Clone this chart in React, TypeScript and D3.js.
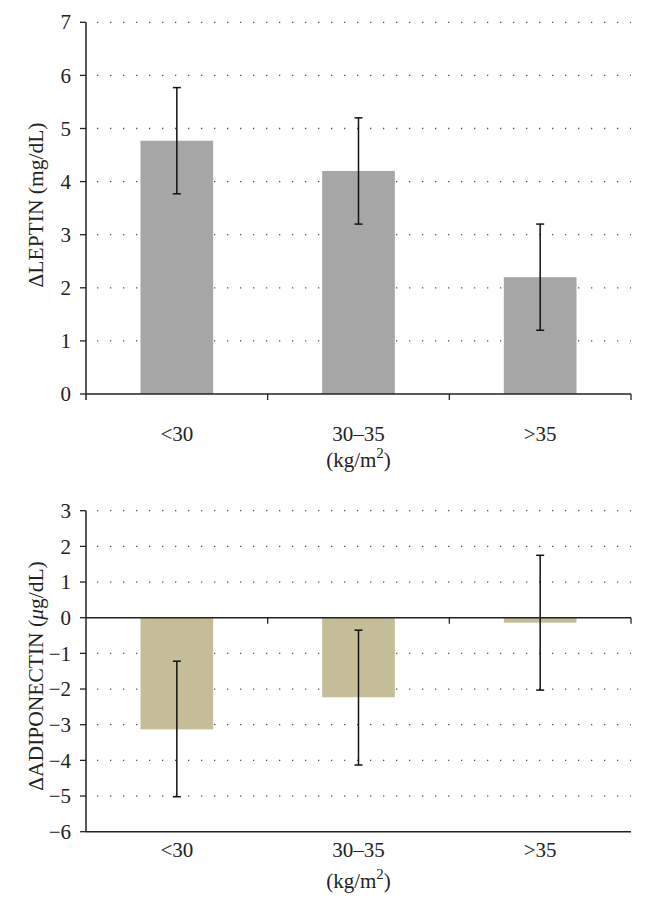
import React from "react";
import * as d3 from "d3";

const categories = ["<30", "30\u201335", ">35"];
const leptinValues = [4.77, 4.2, 2.2];
const leptinLow = [3.77, 3.2, 1.2];
const leptinHigh = [5.77, 5.2, 3.2];
const leptinTicks = [0, 1, 2, 3, 4, 5, 6, 7];
const adipoValues = [-3.13, -2.23, -0.14];
const adipoLow = [-5.02, -4.13, -2.03];
const adipoHigh = [-1.22, -0.35, 1.75];
const adipoTicks = [-6, -5, -4, -3, -2, -1, 0, 1, 2, 3];

const FONT = "Liberation Serif";

type PanelProps = {
  top: number;
  bottom: number;
  domain: [number, number];
  ticks: number[];
  values: number[];
  low: number[];
  high: number[];
  color: string;
  title: React.ReactNode;
  titleY: number;
  labelY: number;
  unitY: number;
};

function Panel(p: PanelProps) {
  const left = 86;
  const right = 631;
  const x = d3.scaleBand<string>().domain(categories).range([left, right]).paddingInner(0.6).paddingOuter(0.3);
  const xb = d3.scaleBand<string>().domain(categories).range([left, right]);
  const y = d3.scaleLinear().domain(p.domain).range([p.bottom, p.top]);
  const y0 = y(0);
  const fmt = (v: number) => (v < 0 ? "\u2212" + Math.abs(v) : String(v));
  return (
    <g>
      {p.ticks.filter((t) => t !== p.domain[0] && t !== 0).map((t) => (
        <line key={"g" + t} x1={left + 11} x2={right} y1={y(t)} y2={y(t)} stroke="#555" strokeWidth={1.3} strokeDasharray="1.3,11.7" />
      ))}
      {categories.map((c, i) => {
        const v = p.values[i];
        const bx = x(c)!;
        const bw = x.bandwidth();
        const cx = bx + bw / 2;
        return (
          <g key={c}>
            <rect x={bx} y={Math.min(y(v), y0)} width={bw} height={Math.abs(y(v) - y0)} fill={p.color} />
            <line x1={cx} x2={cx} y1={y(p.low[i])} y2={y(p.high[i])} stroke="#111" strokeWidth={1.5} />
            <line x1={cx - 4} x2={cx + 4} y1={y(p.low[i])} y2={y(p.low[i])} stroke="#111" strokeWidth={1.5} />
            <line x1={cx - 4} x2={cx + 4} y1={y(p.high[i])} y2={y(p.high[i])} stroke="#111" strokeWidth={1.5} />
            <text x={cx} y={p.labelY} textAnchor="middle" fontFamily={FONT} fontSize={21} fill="#222">{c}</text>
          </g>
        );
      })}
      <line x1={left} x2={right} y1={y0} y2={y0} stroke="#222" strokeWidth={1.5} />
      {categories.slice(1).map((c) => (
        <line key={"t" + c} x1={xb(c)!} x2={xb(c)!} y1={y0} y2={y0 + 6} stroke="#222" strokeWidth={1.3} />
      ))}
      <line x1={right} x2={right} y1={y0} y2={y0 + 6} stroke="#222" strokeWidth={1.3} />
      {p.domain[0] !== 0 && (
        <line x1={left} x2={right} y1={p.bottom} y2={p.bottom} stroke="#222" strokeWidth={1.5} />
      )}
      <line x1={left} x2={left} y1={p.top} y2={p.bottom + (p.domain[0] === 0 ? 6 : 0)} stroke="#222" strokeWidth={1.5} />
      {p.ticks.map((t) => (
        <g key={"y" + t}>
          <line x1={left - 6} x2={left} y1={y(t)} y2={y(t)} stroke="#222" strokeWidth={1.3} />
          <text x={left - 15} y={y(t)} dy="0.34em" textAnchor="end" fontFamily={FONT} fontSize={21} fill="#222">{fmt(t)}</text>
        </g>
      ))}
      <text transform={`translate(43,${p.titleY}) rotate(-90)`} textAnchor="middle" fontFamily={FONT} fontSize={21.5} fill="#222">{p.title}</text>
      <text x={(left + right) / 2} y={p.unitY} textAnchor="middle" fontFamily={FONT} fontSize={21} fill="#222">
        (kg/m<tspan dy="-9" fontSize={15}>2</tspan><tspan dy="9">)</tspan>
      </text>
    </g>
  );
}

export default function App() {
  return (
    <svg width={646} height={907} style={{ position: "absolute", left: 0, top: 0, background: "#fff" }}>
      <rect width={646} height={907} fill="#fff" />
      <Panel top={22.3} bottom={394} domain={[0, 7]} ticks={leptinTicks} values={leptinValues} low={leptinLow} high={leptinHigh}
        color="#a6a6a6" title={"\u0394LEPTIN (mg/dL)"} titleY={205} labelY={441} unitY={467} />
      <Panel top={510.7} bottom={831.7} domain={[-6, 3]} ticks={adipoTicks} values={adipoValues} low={adipoLow} high={adipoHigh}
        color="#c4bd97" title={<>{"\u0394ADIPONECTIN ("}<tspan fontStyle="italic">{"\u03bc"}</tspan>{"g/dL)"}</>} titleY={676} labelY={857} unitY={888} />
    </svg>
  );
}
